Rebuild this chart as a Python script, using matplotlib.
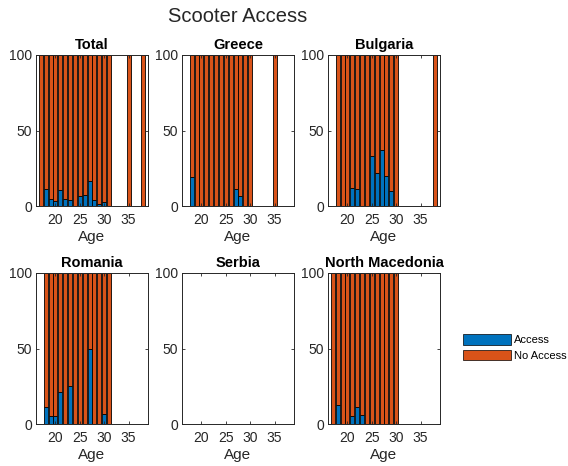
import matplotlib
matplotlib.use("Agg")
import matplotlib.pyplot as plt
from matplotlib.patches import Patch

plt.rcParams['font.family'] = ['Liberation Sans', 'DejaVu Sans']

ages = [17, 18, 19, 20, 21, 22, 23, 24, 25, 26, 27, 28, 29, 30, 31, 32, 33, 34, 35, 36, 37, 38]

# Access percentages per age
total_access = [0, 11.5, 4.7, 3.1, 10.6, 4.5, 4.1, 0, 6.4, 7.2, 16.7, 4.0, 1.5, 2.8, 0, 0, 0, 0, 0, 0, 0, 0]
total_noaccess = [100, 88.5, 95.3, 96.9, 89.4, 95.5, 95.9, 100, 93.6, 92.8, 83.3, 96.0, 98.5, 97.2, 100, 0, 0, 0, 100, 0, 0, 100]

greece_access = [0, 19.5, 0, 0, 0, 0, 0, 0, 0, 0, 11.5, 6.3, 0, 0, 0, 0, 0, 0, 0, 0, 0, 0]
greece_noaccess = [0, 80.5, 100, 100, 100, 100, 100, 100, 100, 100, 88.5, 93.7, 100, 100, 0, 0, 0, 0, 100, 0, 0, 0]

bulgaria_access = [0, 0, 0, 0, 12, 11, 0, 0, 33, 22, 37, 20, 10, 0, 0, 0, 0, 0, 0, 0, 0, 0]
bulgaria_noaccess = [0, 100, 100, 100, 88, 89, 100, 100, 67, 78, 63, 80, 90, 100, 0, 0, 0, 0, 0, 0, 0, 100]

romania_access = [0, 11, 5.5, 5, 21, 0, 25, 0, 0, 0, 50, 0, 0, 6.4, 0, 0, 0, 0, 0, 0, 0, 0]
romania_noaccess = [0, 89, 94.5, 95, 79, 100, 75, 100, 100, 100, 50, 100, 100, 93.6, 100, 0, 0, 0, 0, 0, 0, 0]

serbia_access = [0] * 22
serbia_noaccess = [0] * 22

macedonia_access = [0, 12.5, 0, 0, 5.3, 11, 5.8, 0, 0, 0, 0, 0, 0, 0, 0, 0, 0, 0, 0, 0, 0, 0]
macedonia_noaccess = [100, 87.5, 100, 100, 94.7, 89, 94.2, 100, 100, 100, 100, 100, 100, 100, 0, 0, 0, 0, 0, 0, 0, 0]

titles = ['Total', 'Greece', 'Bulgaria', 'Romania', 'Serbia', 'North Macedonia']
access = [total_access, greece_access, bulgaria_access, romania_access, serbia_access, macedonia_access]
noaccess = [total_noaccess, greece_noaccess, bulgaria_noaccess, romania_noaccess, serbia_noaccess, macedonia_noaccess]
xticks = [20, 25, 30, 35]
yticks = [0, 50, 100]

blue = '#0072BD'
orange = '#D95319'
axcol = '#262626'

W, H = 568, 466
fig = plt.figure(figsize=(W / 100, H / 100), dpi=100)

lefts = [36, 182, 328]
tops = [55, 273]
aw, ah = 112, 151

for i, (t, a, n) in enumerate(zip(titles, access, noaccess)):
    r, c = divmod(i, 3)
    ax = fig.add_axes([lefts[c] / W, 1 - (tops[r] + ah) / H, aw / W, ah / H])
    ax.bar(ages, a, width=0.82, color=blue, edgecolor='black', linewidth=0.6)
    ax.bar(ages, n, width=0.82, bottom=a, color=orange, edgecolor='black', linewidth=0.6)
    ax.set_xlim(16, 39)
    ax.set_ylim(0, 100)
    ax.set_xticks(xticks)
    ax.set_yticks(yticks)
    ax.tick_params(direction='in', length=2.5, width=0.6, colors=axcol, labelsize=10,
                   top=True, right=True)
    ax.tick_params(axis='x', pad=5)
    ax.tick_params(axis='y', pad=3)
    for s in ax.spines.values():
        s.set_linewidth(0.7)
        s.set_color(axcol)
    ax.set_title(t, fontsize=10.5, fontweight='bold', color='black', pad=4)
    ax.set_xlabel('Age', fontsize=11, color=axcol, labelpad=2)

fig.text(238 / W, 1 - 17 / H, 'Scooter Access', fontsize=14.5, ha='center', va='center', color=axcol)

handles = [Patch(facecolor=blue, edgecolor='black', linewidth=0.5, label='Access'),
           Patch(facecolor=orange, edgecolor='black', linewidth=0.5, label='No Access')]
fig.legend(handles=handles, loc='upper left', bbox_to_anchor=(463 / W, 1 - 334 / H),
           frameon=False, fontsize=8, handlelength=4.3, handleheight=1.1,
           handletextpad=0.3, labelspacing=0.4, borderpad=0, borderaxespad=0)

fig.savefig('out.png', dpi=100)
